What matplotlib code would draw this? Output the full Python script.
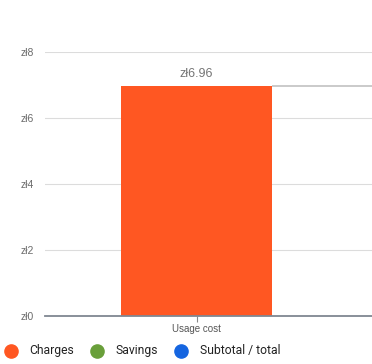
import matplotlib.pyplot as plt
from matplotlib.lines import Line2D

# Данные графика
categories = ['Usage cost']
values = [6.96]
y_ticks = [0, 2, 4, 6, 8]
y_labels = ['zł0', 'zł2', 'zł4', 'zł6', 'zł8']
legend_names = ['Charges', 'Savings', 'Subtotal / total']
legend_colors = ['#ff5722', '#699f3a', '#1565e0']

plt.rcParams['font.family'] = ['Liberation Sans', 'DejaVu Sans']

W, H = 372, 364
fig = plt.figure(figsize=(W / 100, H / 100), dpi=100)
ax = fig.add_axes([45 / W, 1 - 316 / H, 1 - 45 / W, (316 - 52) / H])

bar_w = 0.5
xpos = list(range(len(categories)))
ax.bar(xpos, values, width=bar_w, color=legend_colors[0], zorder=2)

# Линия-соединитель от верха столбца вправо
for x, v in zip(xpos, values):
    ax.plot([x + bar_w / 2, 10], [v, v], color='#c6c6c6', lw=1.3, zorder=1,
            solid_capstyle='butt')
    ax.text(x, v + 0.2, f'zł{v:.2f}', ha='center', va='bottom',
            fontsize=9, color='#757575')

ax.set_ylim(0, 8)
ax.set_xlim(-0.5017, 0.581)
ax.set_yticks(y_ticks)
ax.set_yticklabels(y_labels)
ax.set_xticks(xpos)
ax.set_xticklabels(categories)
ax.tick_params(axis='y', length=0, pad=8, labelsize=7.5, labelcolor='#6b6b6b')
ax.tick_params(axis='x', length=4, width=0.8, color='#888888', pad=2,
               labelsize=7, labelcolor='#555555')
ax.grid(axis='y', color='#dcdcdc', lw=0.8, zorder=0)
for s in ['top', 'right', 'left']:
    ax.spines[s].set_visible(False)
ax.spines['bottom'].set_color('#7f8791')
ax.spines['bottom'].set_linewidth(1.3)
ax.spines['bottom'].set_zorder(3)

# Легенда (ручная раскладка)
leg_x = [10.5, 97, 181]
leg_y = 1 - 350.5 / H
for lx, name, c in zip(leg_x, legend_names, legend_colors):
    fig.add_artist(Line2D([lx / W], [leg_y], marker='o', ls='none',
                          markersize=9.5, markerfacecolor=c,
                          markeredgecolor=c, transform=fig.transFigure))
    fig.text((lx + 18.5) / W, leg_y, name, ha='left', va='center',
             fontsize=8.7, color='#222222', family='Roboto')

fig.savefig('out.png', dpi=100)
